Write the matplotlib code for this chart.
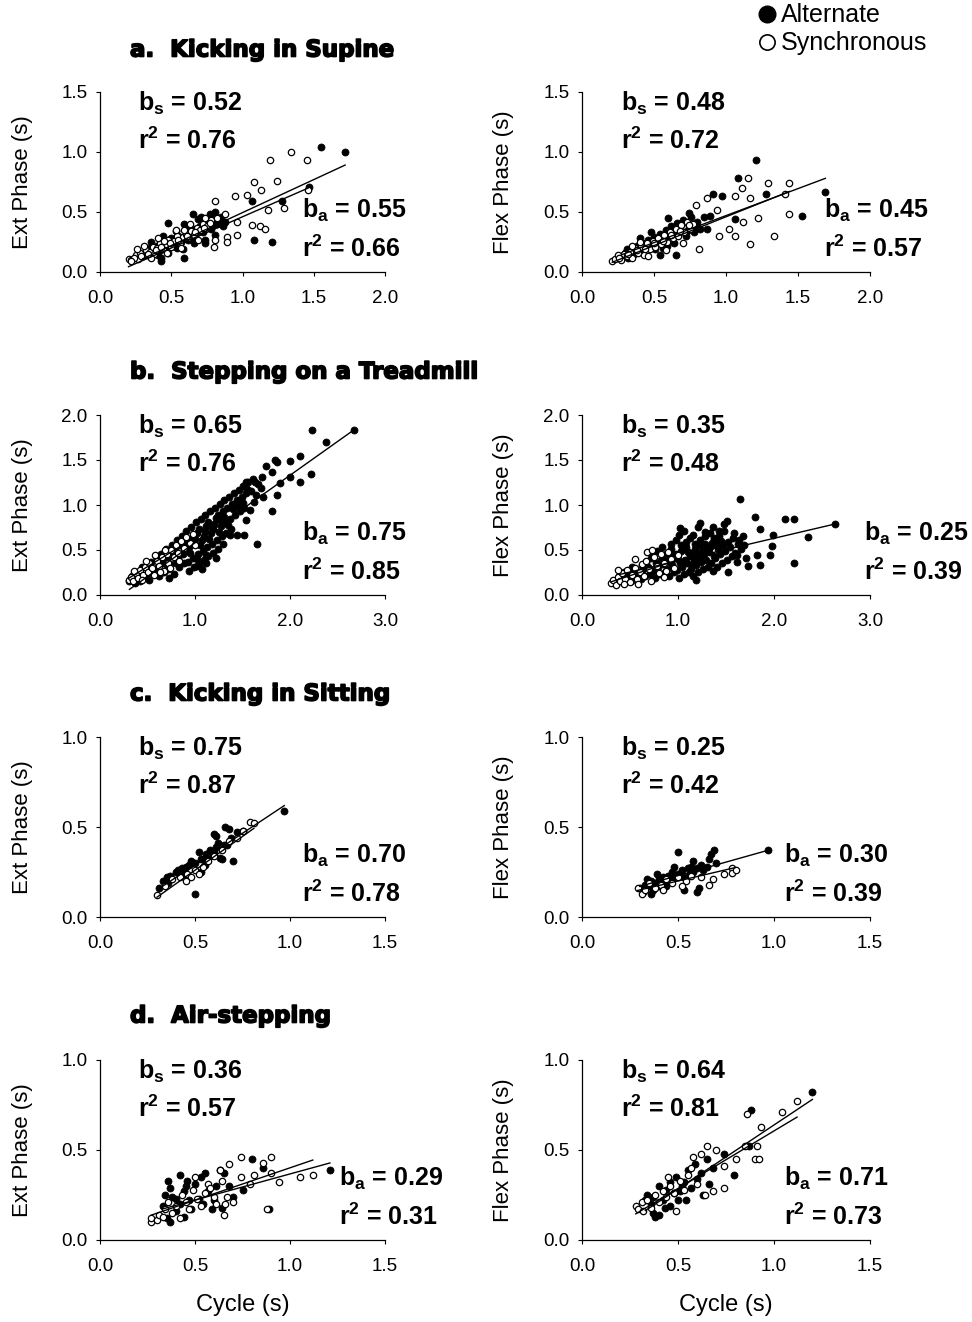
import numpy as np
import matplotlib
matplotlib.use("Agg")
import matplotlib.pyplot as plt
from matplotlib.lines import Line2D
import matplotlib.patheffects as pe

plt.rcParams["font.family"] = ["Liberation Sans", "DejaVu Sans"]
plt.rcParams["mathtext.fontset"] = "custom"
plt.rcParams["mathtext.rm"] = "Liberation Sans"
plt.rcParams["mathtext.default"] = "regular"

# ---- a. kicking in supine -------------------------------------------------
supine_ext_alt = [
    (0.30, 0.14), (0.35, 0.20), (0.38, 0.15), (0.40, 0.22), (0.42, 0.18), (0.45, 0.26),
    (0.47, 0.20), (0.50, 0.28), (0.52, 0.22), (0.55, 0.30), (0.57, 0.25), (0.60, 0.33),
    (0.62, 0.27), (0.65, 0.36), (0.67, 0.30), (0.70, 0.38), (0.72, 0.33), (0.75, 0.42),
    (0.78, 0.36), (0.80, 0.44), (0.82, 0.40), (0.85, 0.46), (0.88, 0.42), (0.36, 0.25),
    (0.44, 0.30), (0.53, 0.34), (0.61, 0.38), (0.69, 0.44), (0.77, 0.48), (0.48, 0.16),
    (0.58, 0.19), (0.66, 0.24), (0.43, 0.12), (0.59, 0.40), (0.74, 0.27), (0.81, 0.31),
    (0.71, 0.46), (0.33, 0.17), (0.39, 0.19), (0.46, 0.23), (0.51, 0.25), (0.56, 0.27),
    (0.63, 0.31), (0.68, 0.34), (0.73, 0.37), (0.79, 0.40), (0.84, 0.43), (0.41, 0.14),
    (0.54, 0.20), (0.64, 0.29), (0.86, 0.38),
    (1.55, 1.04), (1.72, 1.00), (1.07, 0.59), (1.28, 0.59), (1.08, 0.27), (1.21, 0.25),
    (0.59, 0.12), (0.43, 0.09), (0.74, 0.24), (0.65, 0.48), (0.48, 0.41), (0.81, 0.50),
    (1.47, 0.71),
]
supine_ext_syn = [
    (0.20, 0.11), (0.22, 0.10), (0.25, 0.14), (0.27, 0.11), (0.28, 0.16), (0.30, 0.13),
    (0.32, 0.18), (0.33, 0.14), (0.35, 0.17), (0.37, 0.21), (0.38, 0.15), (0.40, 0.20),
    (0.42, 0.24), (0.44, 0.19), (0.46, 0.23), (0.48, 0.27), (0.50, 0.21), (0.52, 0.26),
    (0.54, 0.30), (0.56, 0.24), (0.58, 0.29), (0.60, 0.32), (0.62, 0.28), (0.64, 0.34),
    (0.66, 0.31), (0.68, 0.37), (0.70, 0.35), (0.72, 0.40), (0.75, 0.38), (0.78, 0.43),
    (0.26, 0.19), (0.31, 0.22), (0.36, 0.12), (0.41, 0.28), (0.47, 0.16), (0.53, 0.35),
    (0.57, 0.20), (0.63, 0.40), (0.69, 0.27), (0.74, 0.45), (0.24, 0.12), (0.29, 0.13),
    (0.34, 0.15), (0.39, 0.18), (0.43, 0.21), (0.49, 0.24), (0.55, 0.27), (0.61, 0.30),
    (0.67, 0.33), (0.73, 0.37), (0.77, 0.41), (0.82, 0.45), (0.45, 0.26), (0.59, 0.35),
    (1.19, 0.93), (1.34, 1.00), (1.45, 0.93), (1.08, 0.75), (1.24, 0.76), (1.03, 0.64),
    (1.13, 0.68), (0.95, 0.63), (0.81, 0.59), (1.46, 0.68), (1.18, 0.52), (1.29, 0.53),
    (0.96, 0.42), (1.07, 0.39), (1.12, 0.38), (1.16, 0.36), (0.96, 0.31), (0.89, 0.29),
    (0.89, 0.25), (0.81, 0.27), (0.80, 0.21), (0.88, 0.48), (0.22, 0.09),
]
supine_flex_alt = [
    (0.28, 0.13), (0.30, 0.16), (0.32, 0.12), (0.34, 0.19), (0.36, 0.15), (0.38, 0.22),
    (0.40, 0.18), (0.42, 0.24), (0.44, 0.20), (0.46, 0.27), (0.48, 0.22), (0.50, 0.29),
    (0.52, 0.25), (0.54, 0.32), (0.56, 0.27), (0.58, 0.35), (0.60, 0.30), (0.62, 0.38),
    (0.64, 0.32), (0.66, 0.41), (0.68, 0.35), (0.70, 0.43), (0.72, 0.30), (0.74, 0.38),
    (0.76, 0.46), (0.78, 0.33), (0.80, 0.42), (0.82, 0.36), (0.40, 0.28), (0.48, 0.33),
    (0.56, 0.20), (0.64, 0.24), (0.85, 0.46), (0.31, 0.19), (0.37, 0.18), (0.43, 0.22),
    (0.49, 0.25), (0.55, 0.29), (0.61, 0.33), (0.67, 0.37), (0.73, 0.34), (0.79, 0.38),
    (0.51, 0.19), (0.59, 0.22),
    (1.21, 0.93), (1.08, 0.78), (1.28, 0.65), (1.69, 0.67), (1.53, 0.47), (1.06, 0.44),
    (0.97, 0.63), (0.91, 0.65), (0.87, 0.36), (0.60, 0.45), (0.74, 0.49), (0.65, 0.14),
    (0.54, 0.14), (0.89, 0.47),
]
supine_flex_syn = [
    (0.21, 0.09), (0.23, 0.11), (0.25, 0.14), (0.27, 0.10), (0.29, 0.15), (0.31, 0.13),
    (0.33, 0.17), (0.35, 0.12), (0.37, 0.20), (0.39, 0.16), (0.41, 0.21), (0.43, 0.14),
    (0.45, 0.24), (0.47, 0.19), (0.49, 0.26), (0.51, 0.21), (0.53, 0.28), (0.55, 0.23),
    (0.57, 0.31), (0.59, 0.25), (0.61, 0.33), (0.63, 0.28), (0.65, 0.36), (0.67, 0.30),
    (0.69, 0.39), (0.71, 0.33), (0.73, 0.42), (0.75, 0.36), (0.77, 0.40), (0.35, 0.22),
    (0.46, 0.13), (0.58, 0.18), (0.70, 0.24), (0.26, 0.12), (0.32, 0.15), (0.38, 0.18),
    (0.44, 0.19), (0.50, 0.24), (0.56, 0.26), (0.62, 0.31), (0.68, 0.34), (0.74, 0.39),
    (0.40, 0.25),
    (1.15, 0.78), (1.29, 0.74), (1.44, 0.74), (1.11, 0.70), (1.06, 0.63), (1.17, 0.62),
    (1.41, 0.65), (1.44, 0.48), (1.22, 0.45), (1.12, 0.42), (1.02, 0.36), (0.95, 0.30),
    (1.06, 0.30), (1.33, 0.30), (1.17, 0.23), (0.81, 0.19), (0.79, 0.56), (0.87, 0.62),
    (0.94, 0.52),
]

# ---- b. stepping on a treadmill ------------------------------------------
treadmill_ext_alt = [
    (0.31, 0.15), (0.34, 0.21), (0.37, 0.13), (0.39, 0.26), (0.42, 0.16), (0.44, 0.31),
    (0.46, 0.21), (0.49, 0.23), (0.51, 0.33), (0.52, 0.17), (0.54, 0.37), (0.57, 0.26),
    (0.59, 0.43), (0.61, 0.31), (0.62, 0.21), (0.64, 0.46), (0.66, 0.36), (0.67, 0.25),
    (0.69, 0.51), (0.71, 0.41), (0.72, 0.29), (0.73, 0.19), (0.76, 0.56), (0.77, 0.45),
    (0.74, 0.34), (0.78, 0.23), (0.81, 0.61), (0.79, 0.51), (0.82, 0.41), (0.83, 0.31),
    (0.86, 0.65), (0.84, 0.55), (0.87, 0.45), (0.88, 0.35), (0.91, 0.71), (0.89, 0.59),
    (0.92, 0.49), (0.93, 0.37), (0.94, 0.27), (0.96, 0.75), (0.97, 0.63), (0.94, 0.53),
    (0.98, 0.41), (0.99, 0.31), (1.01, 0.81), (1.02, 0.69), (0.99, 0.57), (1.03, 0.46),
    (1.04, 0.34), (1.06, 0.85), (1.04, 0.73), (1.07, 0.61), (1.08, 0.49), (1.09, 0.39),
    (1.07, 0.29), (1.11, 0.89), (1.12, 0.77), (1.09, 0.65), (1.13, 0.53), (1.14, 0.43),
    (1.16, 0.93), (1.14, 0.81), (1.17, 0.69), (1.18, 0.57), (1.19, 0.47), (1.21, 0.97),
    (1.22, 0.86), (1.19, 0.73), (1.23, 0.61), (1.24, 0.51), (1.26, 1.01), (1.24, 0.89),
    (1.27, 0.77), (1.28, 0.65), (1.31, 1.06), (1.29, 0.93), (1.32, 0.81), (1.33, 0.69),
    (1.36, 1.09), (1.34, 0.97), (1.37, 0.85), (1.38, 0.73), (1.41, 1.13), (1.39, 1.01),
    (1.42, 0.89), (1.46, 1.17), (1.44, 1.05), (1.47, 0.93), (1.51, 1.21), (1.49, 1.09),
    (1.52, 0.97), (1.56, 1.25), (1.54, 1.13), (1.61, 1.29), (1.59, 1.16), (1.62, 1.03),
    (1.66, 1.23), (1.64, 1.11), (1.71, 1.31), (1.69, 1.19), (0.88, 0.52), (0.95, 0.47),
    (1.00, 0.62), (1.05, 0.55), (1.10, 0.71), (1.15, 0.62), (1.20, 0.79), (1.25, 0.70),
    (1.30, 0.87), (1.35, 0.78), (1.40, 0.95), (1.45, 0.99), (1.02, 0.40), (1.12, 0.35),
    (0.80, 0.36), (0.70, 0.33), (1.50, 1.02), (1.55, 1.18), (1.26, 0.83), (1.18, 0.75),
    (2.23, 1.83), (2.67, 1.83), (2.38, 1.70), (2.10, 1.54), (2.22, 1.34), (2.11, 1.26),
    (1.81, 0.93), (1.65, 0.57), (1.29, 0.57), (1.12, 0.44), (1.22, 0.41), (1.02, 0.32),
    (1.84, 1.50), (1.86, 1.48), (2.00, 1.49), (1.75, 1.43), (1.81, 1.37), (1.89, 1.24),
    (2.00, 1.31), (1.86, 1.11), (1.72, 1.09), (1.63, 1.26), (1.54, 1.26), (1.44, 0.67),
    (1.52, 0.67), (1.37, 0.67), (1.58, 0.94), (1.54, 0.83),
]
treadmill_ext_syn = [
    (0.30, 0.17), (0.33, 0.20), (0.35, 0.15), (0.38, 0.24), (0.40, 0.19), (0.42, 0.28),
    (0.45, 0.22), (0.47, 0.31), (0.50, 0.26), (0.52, 0.35), (0.55, 0.30), (0.57, 0.22),
    (0.60, 0.38), (0.62, 0.32), (0.65, 0.42), (0.67, 0.27), (0.70, 0.45), (0.72, 0.36),
    (0.75, 0.50), (0.78, 0.42), (0.80, 0.55), (0.82, 0.47), (0.85, 0.60), (0.88, 0.52),
    (0.90, 0.64), (0.95, 0.58), (0.98, 0.68), (0.36, 0.27), (0.44, 0.17), (0.58, 0.44),
    (0.68, 0.50), (0.74, 0.30), (0.83, 0.38), (0.48, 0.38), (0.63, 0.26), (1.00, 0.56),
]
treadmill_flex_alt = [
    (0.41, 0.15), (0.39, 0.21), (0.46, 0.19), (0.44, 0.26), (0.51, 0.16), (0.49, 0.23),
    (0.52, 0.31), (0.56, 0.21), (0.54, 0.28), (0.61, 0.18), (0.59, 0.25), (0.62, 0.33),
    (0.66, 0.21), (0.64, 0.29), (0.67, 0.37), (0.71, 0.23), (0.69, 0.31), (0.72, 0.41),
    (0.76, 0.19), (0.74, 0.27), (0.77, 0.35), (0.73, 0.45), (0.81, 0.23), (0.79, 0.31),
    (0.82, 0.39), (0.78, 0.49), (0.86, 0.26), (0.84, 0.34), (0.87, 0.43), (0.83, 0.53),
    (0.91, 0.21), (0.89, 0.29), (0.92, 0.37), (0.88, 0.46), (0.93, 0.57), (0.96, 0.25),
    (0.94, 0.33), (0.97, 0.41), (0.93, 0.51), (0.98, 0.61), (1.01, 0.19), (0.99, 0.28),
    (1.02, 0.36), (0.98, 0.45), (1.03, 0.55), (1.01, 0.67), (1.06, 0.23), (1.04, 0.31),
    (1.07, 0.39), (1.03, 0.49), (1.08, 0.59), (1.06, 0.71), (1.11, 0.26), (1.09, 0.35),
    (1.12, 0.43), (1.08, 0.53), (1.13, 0.63), (1.16, 0.21), (1.14, 0.29), (1.17, 0.38),
    (1.13, 0.47), (1.18, 0.57), (1.16, 0.67), (1.21, 0.25), (1.19, 0.33), (1.22, 0.41),
    (1.18, 0.51), (1.23, 0.61), (1.21, 0.75), (1.26, 0.29), (1.24, 0.37), (1.27, 0.45),
    (1.23, 0.55), (1.28, 0.65), (1.31, 0.31), (1.29, 0.39), (1.32, 0.48), (1.28, 0.57),
    (1.33, 0.69), (1.36, 0.27), (1.34, 0.35), (1.37, 0.43), (1.33, 0.53), (1.38, 0.63),
    (1.36, 0.75), (1.41, 0.31), (1.39, 0.41), (1.42, 0.51), (1.38, 0.61), (1.43, 0.71),
    (1.46, 0.35), (1.44, 0.45), (1.47, 0.55), (1.43, 0.65), (1.48, 0.79), (1.51, 0.39),
    (1.49, 0.49), (1.52, 0.59), (1.48, 0.71), (1.56, 0.43), (1.54, 0.53), (1.57, 0.63),
    (1.61, 0.37), (1.59, 0.47), (1.62, 0.57), (1.58, 0.69), (1.66, 0.51), (1.64, 0.61),
    (1.71, 0.41), (1.69, 0.56), (0.95, 0.45), (1.05, 0.52), (1.15, 0.43), (1.25, 0.49),
    (1.35, 0.58), (1.45, 0.60), (1.10, 0.48), (1.20, 0.45), (1.30, 0.52), (1.40, 0.55),
    (1.00, 0.40), (0.90, 0.40), (1.26, 0.40), (1.15, 0.33),
    (1.65, 1.07), (1.80, 0.87), (2.11, 0.84), (2.21, 0.85), (2.64, 0.79), (2.35, 0.64),
    (2.21, 0.36), (1.98, 0.54), (1.85, 0.73), (1.99, 0.67), (1.23, 0.80), (1.02, 0.74),
    (1.51, 0.82), (1.28, 0.70), (1.73, 0.32), (1.52, 0.25), (1.19, 0.17), (1.85, 0.33),
    (1.82, 0.44), (1.68, 0.65), (1.61, 0.44), (1.96, 0.44),
]
treadmill_flex_syn = [
    (0.30, 0.13), (0.32, 0.17), (0.35, 0.11), (0.37, 0.20), (0.40, 0.15), (0.42, 0.24),
    (0.45, 0.18), (0.47, 0.28), (0.50, 0.14), (0.52, 0.22), (0.55, 0.30), (0.57, 0.18),
    (0.60, 0.26), (0.62, 0.34), (0.65, 0.21), (0.67, 0.38), (0.70, 0.29), (0.72, 0.16),
    (0.75, 0.42), (0.78, 0.32), (0.80, 0.24), (0.82, 0.46), (0.85, 0.36), (0.88, 0.27),
    (0.90, 0.48), (0.93, 0.40), (0.96, 0.30), (1.00, 0.44), (0.38, 0.28), (0.55, 0.40),
    (0.68, 0.48), (0.44, 0.12), (0.58, 0.12), (0.73, 0.50), (0.85, 0.20),
]

# ---- c. kicking in sitting ------------------------------------------------
sitting_ext_alt = [
    (0.33, 0.20), (0.35, 0.22), (0.37, 0.23), (0.40, 0.25), (0.41, 0.26), (0.43, 0.27),
    (0.45, 0.28), (0.47, 0.29), (0.48, 0.31), (0.50, 0.30), (0.52, 0.36), (0.53, 0.32),
    (0.55, 0.33), (0.56, 0.35), (0.58, 0.34), (0.58, 0.37), (0.60, 0.36), (0.61, 0.39),
    (0.62, 0.41), (0.63, 0.33), (0.64, 0.32), (0.65, 0.40), (0.66, 0.50), (0.67, 0.40),
    (0.68, 0.49), (0.70, 0.31), (0.60, 0.46), (0.61, 0.45), (0.50, 0.13), (0.97, 0.59),
    (0.31, 0.16), (0.36, 0.19), (0.44, 0.24), (0.55, 0.29), (0.69, 0.44), (0.72, 0.47),
    (0.75, 0.48), (0.53, 0.25),
]
sitting_ext_syn = [
    (0.30, 0.12), (0.34, 0.17), (0.38, 0.21), (0.42, 0.22), (0.46, 0.24), (0.48, 0.22),
    (0.50, 0.26), (0.54, 0.28), (0.57, 0.31), (0.60, 0.34), (0.64, 0.37), (0.68, 0.42),
    (0.72, 0.44), (0.75, 0.48), (0.79, 0.53), (0.81, 0.52), (0.45, 0.20), (0.52, 0.24),
]
sitting_flex_alt = [
    (0.30, 0.16), (0.32, 0.14), (0.33, 0.18), (0.35, 0.17), (0.36, 0.20), (0.37, 0.15),
    (0.38, 0.19), (0.40, 0.21), (0.40, 0.17), (0.42, 0.22), (0.43, 0.19), (0.45, 0.23),
    (0.46, 0.20), (0.47, 0.25), (0.48, 0.22), (0.50, 0.24), (0.50, 0.36), (0.52, 0.26),
    (0.53, 0.22), (0.53, 0.15), (0.55, 0.27), (0.56, 0.24), (0.57, 0.28), (0.58, 0.25),
    (0.60, 0.27), (0.60, 0.14), (0.61, 0.16), (0.62, 0.29), (0.63, 0.26), (0.65, 0.28),
    (0.66, 0.32), (0.67, 0.35), (0.69, 0.37), (0.70, 0.30), (0.97, 0.37), (0.36, 0.13),
    (0.44, 0.17), (0.34, 0.21), (0.39, 0.24), (0.58, 0.31), (0.48, 0.28),
]
sitting_flex_syn = [
    (0.29, 0.16), (0.31, 0.13), (0.33, 0.15), (0.35, 0.19), (0.38, 0.16), (0.41, 0.18),
    (0.44, 0.21), (0.47, 0.19), (0.50, 0.22), (0.54, 0.20), (0.57, 0.23), (0.62, 0.22),
    (0.66, 0.18), (0.68, 0.21), (0.74, 0.24), (0.78, 0.27), (0.78, 0.245), (0.80, 0.26),
    (0.42, 0.15), (0.52, 0.17),
]

# ---- d. air-stepping ------------------------------------------------------
air_ext_alt = [
    (0.33, 0.19), (0.35, 0.12), (0.36, 0.33), (0.37, 0.29), (0.37, 0.10), (0.38, 0.24),
    (0.40, 0.23), (0.40, 0.16), (0.42, 0.20), (0.44, 0.13), (0.44, 0.27), (0.46, 0.33),
    (0.47, 0.22), (0.48, 0.17), (0.50, 0.31), (0.52, 0.23), (0.54, 0.20), (0.55, 0.37),
    (0.57, 0.27), (0.59, 0.17), (0.61, 0.30), (0.63, 0.39), (0.64, 0.18), (0.65, 0.37),
    (0.68, 0.30), (0.70, 0.24), (0.75, 0.28), (0.80, 0.45), (0.86, 0.40), (0.89, 0.17),
    (1.21, 0.39), (0.34, 0.25), (0.45, 0.30), (0.53, 0.35), (0.60, 0.22), (0.42, 0.36),
]
air_ext_syn = [
    (0.27, 0.10), (0.27, 0.12), (0.30, 0.11), (0.31, 0.14), (0.33, 0.13), (0.34, 0.17),
    (0.36, 0.21), (0.38, 0.15), (0.40, 0.19), (0.42, 0.12), (0.43, 0.25), (0.45, 0.21),
    (0.47, 0.17), (0.49, 0.28), (0.50, 0.35), (0.51, 0.23), (0.53, 0.19), (0.55, 0.26),
    (0.57, 0.31), (0.60, 0.24), (0.61, 0.20), (0.63, 0.39), (0.65, 0.14), (0.66, 0.20),
    (0.67, 0.24), (0.68, 0.42), (0.70, 0.21), (0.74, 0.46), (0.74, 0.35), (0.79, 0.31),
    (0.81, 0.36), (0.86, 0.43), (0.88, 0.17), (0.90, 0.46), (0.90, 0.37), (0.94, 0.32),
    (1.05, 0.35), (1.12, 0.36), (0.64, 0.33), (0.58, 0.29),
]
air_flex_alt = [
    (0.34, 0.25), (0.36, 0.20), (0.37, 0.24), (0.37, 0.15), (0.38, 0.13), (0.40, 0.14),
    (0.40, 0.30), (0.42, 0.22), (0.44, 0.28), (0.46, 0.19), (0.46, 0.32), (0.48, 0.26),
    (0.49, 0.35), (0.50, 0.22), (0.52, 0.30), (0.53, 0.32), (0.54, 0.22), (0.55, 0.39),
    (0.57, 0.29), (0.59, 0.42), (0.60, 0.34), (0.63, 0.25), (0.66, 0.31), (0.68, 0.40),
    (0.74, 0.48), (0.79, 0.36), (0.87, 0.52), (0.88, 0.72), (1.20, 0.82), (0.43, 0.18),
    (0.51, 0.27), (0.62, 0.37), (0.65, 0.45), (0.33, 0.22),
]
air_flex_syn = [
    (0.28, 0.19), (0.29, 0.17), (0.31, 0.21), (0.32, 0.16), (0.34, 0.22), (0.36, 0.18),
    (0.38, 0.25), (0.40, 0.21), (0.42, 0.27), (0.44, 0.24), (0.46, 0.30), (0.48, 0.26),
    (0.49, 0.16), (0.51, 0.33), (0.53, 0.28), (0.55, 0.36), (0.58, 0.46), (0.60, 0.31),
    (0.62, 0.48), (0.64, 0.25), (0.65, 0.52), (0.68, 0.27), (0.70, 0.50), (0.74, 0.29),
    (0.74, 0.41), (0.80, 0.45), (0.85, 0.52), (0.86, 0.70), (0.90, 0.45), (0.91, 0.52),
    (0.92, 0.45), (0.93, 0.63), (1.04, 0.71), (1.12, 0.77), (0.45, 0.35), (0.57, 0.40),
]

# slopes (from the labels), estimated intercepts and r^2 per panel
# order: supine ext, supine flex, treadmill ext, treadmill flex,
#        sitting ext, sitting flex, air ext, air flex
slope_syn = [0.52, 0.48, 0.65, 0.35, 0.75, 0.25, 0.36, 0.64]
icpt_syn = [-0.06, -0.02, -0.01, 0.04, -0.115, 0.075, 0.041, -0.034]
r2_syn = [0.76, 0.72, 0.76, 0.48, 0.87, 0.42, 0.57, 0.81]
slope_alt = [0.55, 0.45, 0.75, 0.25, 0.70, 0.30, 0.29, 0.71]
icpt_alt = [-0.055, 0.02, -0.17, 0.13, -0.06, 0.08, 0.077, -0.071]
r2_alt = [0.66, 0.57, 0.85, 0.39, 0.78, 0.39, 0.31, 0.73]

titles = ["a.  Kicking in Supine", "b.  Stepping on a Treadmill",
          "c.  Kicking in Sitting", "d.  Air-stepping"]

alt_sets = [supine_ext_alt, supine_flex_alt, treadmill_ext_alt, treadmill_flex_alt,
            sitting_ext_alt, sitting_flex_alt, air_ext_alt, air_flex_alt]
syn_sets = [supine_ext_syn, supine_flex_syn, treadmill_ext_syn, treadmill_flex_syn,
            sitting_ext_syn, sitting_flex_syn, air_ext_syn, air_flex_syn]

xmax = [2.0, 2.0, 3.0, 3.0, 1.5, 1.5, 1.5, 1.5]
ymax = [1.5, 1.5, 2.0, 2.0, 1.0, 1.0, 1.0, 1.0]
xstep = [0.5, 0.5, 1.0, 1.0, 0.5, 0.5, 0.5, 0.5]

# where the b_a / r^2 block sits (axes fraction x) per panel
ba_x = [0.71, 0.84, 0.71, 0.98, 0.71, 0.70, 0.84, 0.70]

W, H = 972, 1322
fig = plt.figure(figsize=(W / 100, H / 100), dpi=100)

col_left = [100, 582]
col_width = [285, 288]
row_bottom = [272, 595, 917, 1240]
ax_h = 180
title_y = [50, 372, 694, 1016]

for i in range(8):
    row, col = divmod(i, 2)
    ax = fig.add_axes([col_left[col] / W, 1 - row_bottom[row] / H,
                       col_width[col] / W, ax_h / H])

    alt = np.array(alt_sets[i])
    syn = np.array(syn_sets[i])
    ax.scatter(alt[:, 0], alt[:, 1], s=26, c="black", edgecolors="black",
               linewidths=0.5, zorder=2)
    ax.scatter(syn[:, 0], syn[:, 1], s=21, facecolors="white", edgecolors="black",
               linewidths=0.9, zorder=3)

    xs = np.array([syn[:, 0].min(), syn[:, 0].max()])
    ax.plot(xs, slope_syn[i] * xs + icpt_syn[i], color="black", lw=1.0, zorder=4)
    xa = np.array([alt[:, 0].min(), alt[:, 0].max()])
    ax.plot(xa, slope_alt[i] * xa + icpt_alt[i], color="black", lw=1.0, zorder=4)

    ax.set_xlim(0, xmax[i])
    ax.set_ylim(0, ymax[i])
    ax.set_xticks(np.arange(0, xmax[i] + 0.01, xstep[i]))
    ax.set_yticks(np.arange(0, ymax[i] + 0.01, 0.5))
    ax.xaxis.set_major_formatter(matplotlib.ticker.FormatStrFormatter("%.1f"))
    ax.yaxis.set_major_formatter(matplotlib.ticker.FormatStrFormatter("%.1f"))
    ax.tick_params(direction="out", length=3, width=0.8, labelsize=13.5)
    ax.tick_params(axis="x", pad=10)
    ax.tick_params(axis="y", pad=6)
    for s in ["top", "right"]:
        ax.spines[s].set_visible(False)
    for s in ["left", "bottom"]:
        ax.spines[s].set_linewidth(0.9)
    ax.set_facecolor("none")

    ax.set_ylabel("Ext Phase (s)" if col == 0 else "Flex Phase (s)", fontsize=16)
    ax.yaxis.set_label_coords(-0.235, 0.5)
    if row == 3:
        ax.set_xlabel("Cycle (s)", fontsize=17)
        ax.xaxis.set_label_coords(0.5, -0.3)

    ax.text(0.135, 0.935, f"b$_s$ = {slope_syn[i]:.2f}", transform=ax.transAxes,
            fontsize=18, fontweight="bold", va="center", ha="left")
    ax.text(0.135, 0.73, f"r$^2$ = {r2_syn[i]:.2f}", transform=ax.transAxes,
            fontsize=18, fontweight="bold", va="center", ha="left")
    ax.text(ba_x[i], 0.34, f"b$_a$ = {slope_alt[i]:.2f}", transform=ax.transAxes,
            fontsize=18, fontweight="bold", va="center", ha="left", clip_on=False)
    ax.text(ba_x[i], 0.13, f"r$^2$ = {r2_alt[i]:.2f}", transform=ax.transAxes,
            fontsize=18, fontweight="bold", va="center", ha="left", clip_on=False)

    if col == 0:
        fig.text(130 / W, 1 - title_y[row] / H, titles[row], fontsize=16.5,
                 fontweight="bold", family="DejaVu Sans", va="center", ha="left",
                 path_effects=[pe.withStroke(linewidth=1.2, foreground="black")])

handles = [Line2D([], [], ls="none", marker="o", ms=12, mfc="black", mec="black"),
           Line2D([], [], ls="none", marker="o", ms=11, mfc="white", mec="black",
                  mew=1.2)]
fig.legend(handles, ["Alternate", "Synchronous"], loc="upper left",
           bbox_to_anchor=(752 / W, 1 - 1 / H), frameon=False, fontsize=18,
           handletextpad=0.05, labelspacing=0.15, handlelength=1.0,
           borderaxespad=0, borderpad=0.1)

fig.savefig("out.png", dpi=100, facecolor="white")
